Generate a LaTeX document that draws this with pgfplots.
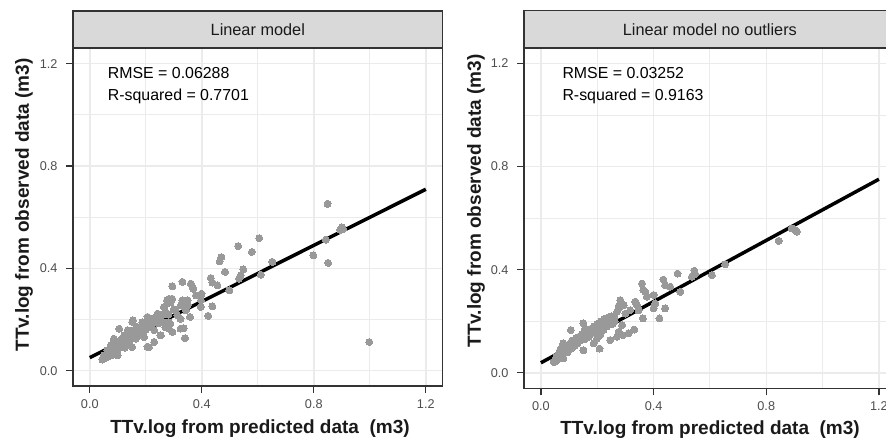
\documentclass[border=0pt]{standalone}
\usepackage{pgfplots}
\pgfplotsset{compat=1.18}
\usepackage{pgfplotstable}
\usepackage{fontspec}
\setmainfont{Liberation Sans}
\definecolor{gridc}{HTML}{EBEBEB}
\definecolor{grey20}{HTML}{333333}
\definecolor{grey30}{HTML}{4D4D4D}
\definecolor{stripc}{HTML}{D9D9D9}
\definecolor{grey10}{HTML}{1A1A1A}
\definecolor{ptc}{HTML}{999999}

\pgfplotstableread{
x y
0.045 0.043
0.05 0.047
0.051 0.06
0.055 0.05
0.06 0.065
0.063 0.079
0.065 0.055
0.07 0.07
0.072 0.085
0.075 0.099
0.078 0.06
0.08 0.092
0.081 0.066
0.085 0.075
0.086 0.125
0.087 0.119
0.09 0.1
0.093 0.086
0.095 0.11
0.099 0.06
0.1 0.08
0.105 0.164
0.106 0.1
0.11 0.12
0.111 0.093
0.115 0.125
0.117 0.119
0.12 0.105
0.123 0.138
0.125 0.09
0.129 0.106
0.13 0.13
0.135 0.158
0.138 0.115
0.14 0.119
0.145 0.14
0.15 0.125
0.151 0.092
0.152 0.145
0.152 0.19
0.154 0.197
0.158 0.158
0.16 0.135
0.164 0.125
0.165 0.15
0.17 0.171
0.175 0.138
0.176 0.164
0.18 0.155
0.182 0.145
0.187 0.151
0.188 0.19
0.19 0.17
0.194 0.131
0.195 0.18
0.2 0.16
0.205 0.177
0.206 0.21
0.206 0.093
0.21 0.185
0.211 0.092
0.212 0.177
0.215 0.2
0.22 0.17
0.222 0.203
0.224 0.197
0.228 0.19
0.23 0.158
0.23 0.112
0.235 0.21
0.24 0.2
0.242 0.223
0.245 0.185
0.248 0.21
0.252 0.138
0.254 0.138
0.255 0.215
0.26 0.19
0.265 0.249
0.27 0.17
0.27 0.23
0.276 0.275
0.277 0.262
0.28 0.22
0.282 0.19
0.283 0.281
0.283 0.164
0.287 0.184
0.289 0.268
0.294 0.281
0.295 0.151
0.295 0.33
0.3 0.24
0.307 0.236
0.313 0.216
0.324 0.203
0.324 0.164
0.325 0.255
0.331 0.347
0.331 0.275
0.335 0.166
0.337 0.268
0.34 0.127
0.343 0.236
0.349 0.275
0.349 0.255
0.358 0.21
0.361 0.34
0.367 0.325
0.37 0.32
0.379 0.294
0.396 0.249
0.397 0.275
0.399 0.301
0.423 0.214
0.432 0.362
0.438 0.344
0.438 0.251
0.456 0.333
0.464 0.427
0.47 0.444
0.483 0.386
0.498 0.314
0.53 0.487
0.533 0.36
0.539 0.373
0.548 0.396
0.579 0.464
0.605 0.518
0.611 0.375
0.652 0.425
0.798 0.451
0.843 0.512
0.849 0.652
0.851 0.421
0.895 0.55
0.9 0.56
0.905 0.553
0.998 0.112
}\leftdata

\pgfplotstableread{
x y
0.045 0.043
0.05 0.05
0.051 0.043
0.055 0.06
0.057 0.062
0.06 0.07
0.065 0.055
0.068 0.088
0.069 0.081
0.072 0.075
0.075 0.1
0.08 0.056
0.08 0.114
0.085 0.09
0.09 0.1
0.095 0.08
0.1 0.11
0.106 0.166
0.108 0.095
0.11 0.125
0.116 0.12
0.12 0.105
0.125 0.135
0.13 0.115
0.135 0.14
0.14 0.125
0.145 0.15
0.151 0.088
0.151 0.192
0.155 0.13
0.157 0.172
0.16 0.145
0.165 0.16
0.17 0.14
0.175 0.17
0.18 0.155
0.185 0.165
0.187 0.114
0.19 0.18
0.195 0.16
0.199 0.133
0.2 0.19
0.205 0.153
0.208 0.094
0.21 0.146
0.21 0.175
0.215 0.2
0.22 0.185
0.222 0.166
0.225 0.21
0.23 0.195
0.235 0.18
0.24 0.215
0.246 0.204
0.246 0.127
0.25 0.22
0.255 0.19
0.258 0.217
0.262 0.2
0.27 0.14
0.27 0.237
0.276 0.159
0.276 0.259
0.282 0.256
0.282 0.282
0.288 0.269
0.288 0.185
0.291 0.146
0.294 0.263
0.3 0.23
0.311 0.153
0.317 0.243
0.331 0.168
0.335 0.276
0.341 0.263
0.347 0.243
0.359 0.346
0.362 0.211
0.364 0.321
0.371 0.314
0.376 0.295
0.4 0.302
0.406 0.269
0.4 0.25
0.421 0.211
0.435 0.362
0.441 0.34
0.441 0.25
0.459 0.334
0.485 0.385
0.495 0.314
0.536 0.373
0.545 0.396
0.548 0.383
0.607 0.379
0.654 0.421
0.844 0.512
0.891 0.56
0.903 0.553
0.909 0.548
}\rightdata

\pgfplotsset{
  panel/.style={
    scale only axis,
    xmin=-0.06, xmax=1.26, ymin=-0.06, ymax=1.26,
    xtick={0,0.4,0.8,1.2}, ytick={0,0.4,0.8,1.2},
    minor xtick={0.2,0.6,1.0}, minor ytick={0.2,0.6,1.0},
    xtick pos=bottom, ytick pos=left,
    grid=both,
    major grid style={draw=gridc, line width=1.5bp},
    minor grid style={draw=gridc, line width=0.9bp},
    tick align=outside,
    major tick length=7bp, minor tick length=0pt,
    tick style={draw=grey20, line width=1.2bp},
    axis line style={draw=grey20, line width=1.6bp},
    tick label style={font=\fontsize{12.7bp}{14bp}\selectfont, text=grey30},
    xticklabel style={yshift=-3bp},
    yticklabel style={xshift=-5bp},
    /pgf/number format/assume math mode=true,
    /pgf/number format/fixed, /pgf/number format/fixed zerofill,
    /pgf/number format/precision=1,
    anchor=south west,
  },
  pts/.style={only marks, mark=*, color=ptc, mark size=3.5bp, mark options={fill=ptc, draw=ptc, line width=0pt}},
}

\begin{document}
\begin{tikzpicture}[x=1bp,y=1bp]
\useasboundingbox (0,0) rectangle (886,-444);

% Left panel
\begin{axis}[panel, name=L, at={(73bp,-386bp)}, width=369.6bp, height=337.7bp]
\addplot[black, line width=3.5bp] coordinates {(0,0.051) (1.2,0.709)};
\addplot[pts] table {\leftdata};
\end{axis}
\draw[fill=stripc, draw=grey20, line width=1.6bp] (L.north west) rectangle ([yshift=37.3bp]L.north east);
\node[font=\fontsize{16.3bp}{18bp}\selectfont, text=grey10] at ([yshift=18.6bp]L.north) {Linear model};

% Right panel
\begin{axis}[panel, name=R, at={(524bp,-388.3bp)}, width=371.8bp, height=340.3bp]
\addplot[black, line width=3.5bp] coordinates {(0,0.039) (1.2,0.751)};
\addplot[pts] table {\rightdata};
\end{axis}
\draw[fill=stripc, draw=grey20, line width=1.6bp] (R.north west) rectangle ([yshift=37.6bp]R.north east);
\node[font=\fontsize{16.3bp}{18bp}\selectfont, text=grey10] at ([yshift=18.8bp]R.north) {Linear model no outliers};

% annotations
\node[anchor=base west, font=\fontsize{15.9bp}{18bp}\selectfont, inner sep=0pt] at (107.7,-78.3) {RMSE = 0.06288};
\node[anchor=base west, font=\fontsize{15.9bp}{18bp}\selectfont, inner sep=0pt] at (107.7,-100.7) {R-squared = 0.7701};
\node[anchor=base west, font=\fontsize{15.9bp}{18bp}\selectfont, inner sep=0pt] at (562.3,-78.3) {RMSE = 0.03252};
\node[anchor=base west, font=\fontsize{15.9bp}{18bp}\selectfont, inner sep=0pt] at (562.3,-100.7) {R-squared = 0.9163};

% axis titles
\node[anchor=base, font=\bfseries\fontsize{19bp}{21bp}\selectfont, inner sep=0pt, text=grey10] at (260,-433) {TTv.log from predicted data\ \ (m3)};
\node[anchor=base, font=\bfseries\fontsize{19bp}{21bp}\selectfont, inner sep=0pt, text=grey10] at (710,-434) {TTv.log from predicted data\ \ (m3)};
\node[rotate=90, font=\bfseries\fontsize{19bp}{21bp}\selectfont, inner sep=0pt, text=grey10] at (24,-205) {TTv.log from observed data (m3)};
\node[rotate=90, font=\bfseries\fontsize{19bp}{21bp}\selectfont, inner sep=0pt, text=grey10] at (476,-201) {TTv.log from observed data (m3)};
\end{tikzpicture}
\end{document}
